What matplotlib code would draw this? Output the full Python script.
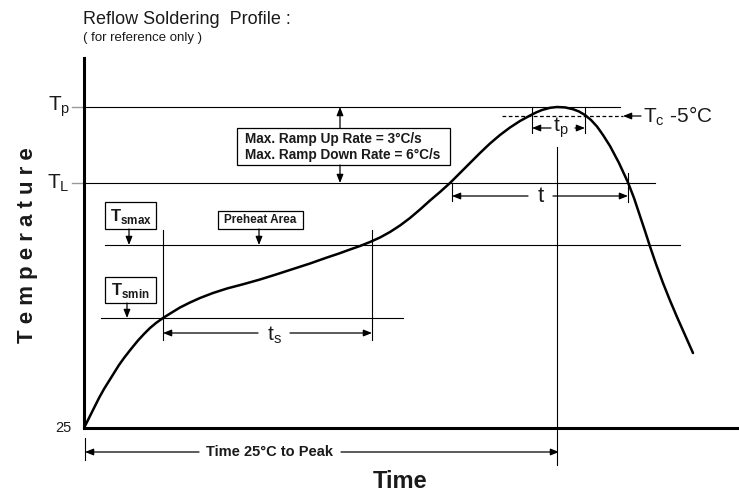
"""Reflow soldering profile sketch (schematic, arbitrary units)."""

import matplotlib
matplotlib.use('Agg')
import matplotlib.pyplot as plt
from matplotlib.patches import Rectangle


plt.rcParams['font.family'] = ['Liberation Sans', 'DejaVu Sans']
plt.rcParams['mathtext.fontset'] = 'custom'
plt.rcParams['mathtext.rm'] = 'Liberation Sans'
plt.rcParams['mathtext.bf'] = 'Liberation Sans:bold'

# ==============================================================================
# data (schematic units)
# ==============================================================================

profile_time = [0, 5, 10, 15, 20, 25, 30, 35, 40, 47, 54, 60, 66, 72, 79, 87, 96,
                106, 116, 129, 143, 160, 176, 192, 209, 226, 243, 255, 266, 276,
                286, 296, 306, 316, 326, 336, 346, 356, 366, 376, 386, 396, 406,
                416, 426, 436, 446, 452, 458, 466, 473, 481, 489, 495, 501, 507,
                513, 519, 526, 535, 544, 550, 556, 561, 566, 572, 579, 586, 593,
                601, 609]
profile_temp = [0, 10, 20, 30, 39, 47, 55, 63, 70, 79, 87.5, 94, 100, 105, 110,
                115, 120.5, 125.5, 130, 135, 139.5, 144, 148.5, 153.5, 159, 164.5,
                170.5, 174.5, 178.5, 182, 186, 190.5, 196, 202.5, 210, 218.5, 227.5,
                236, 245, 255, 265, 275, 284.5, 293, 300.5, 307, 312.5, 315.5, 318,
                320.2, 321, 320.6, 318.8, 316.5, 313, 308, 301.5, 293, 282, 265,
                245.5, 230, 212, 197, 181.5, 164, 145, 127.5, 111, 93, 75]

T_P     = 321
T_C     = 312     # Tc - 5 C
T_L     = 245
T_SMAX  = 183
T_SMIN  = 110

TS_START, TS_END = 79, 288
TL_START, TL_END = 368, 544
TP_START, TP_END = 448, 501
T_PEAK           = 473

LINE = '#000000'
TEXT = '#1a1a1a'


def harrow(ax, x0, x1, y, lw=0.9):
    ax.annotate('', xy=(x1, y), xytext=(x0, y), annotation_clip=False,
                arrowprops=dict(arrowstyle='-|>,head_length=0.5,head_width=0.2',
                                color=LINE, lw=lw, shrinkA=0, shrinkB=0))


def varrow(ax, x, y0, y1, lw=0.9):
    ax.annotate('', xy=(x, y1), xytext=(x, y0), annotation_clip=False,
                arrowprops=dict(arrowstyle='-|>,head_length=0.5,head_width=0.2',
                                color=LINE, lw=lw, shrinkA=0, shrinkB=0))


def vline(ax, x, y0, y1, lw=0.8):
    ax.plot([x, x], [y0, y1], color=LINE, lw=lw, clip_on=False)


def hline(ax, x0, x1, y, lw=0.8, **kw):
    ax.plot([x0, x1], [y, y], color=LINE, lw=lw, clip_on=False, **kw)


fig = plt.figure(figsize=(7.39, 4.91), dpi=100)
ax = fig.add_axes([84 / 739, 63 / 491, 655 / 739, 370 / 491])
ax.set_xlim(0, 655)
ax.set_ylim(0, 370)
ax.set_xticks([])
ax.set_yticks([])
ax.spines['top'].set_visible(False)
ax.spines['right'].set_visible(False)
ax.spines['left'].set_linewidth(2.2)
ax.spines['bottom'].set_linewidth(2.2)

# profile curve
ax.plot(profile_time, profile_temp, color=LINE, lw=1.8, solid_capstyle='round',
        solid_joinstyle='round', zorder=5)

# temperature levels
hline(ax, 0, 536, T_P)
hline(ax, 0, 571, T_L)
hline(ax, 21, 596, T_SMAX)
hline(ax, 17, 319, T_SMIN)
for lvl in (T_P, T_L):
    ax.plot([-12, 0], [lvl, lvl], color='#999999', lw=1.0, clip_on=False)
ax.text(-14, T_P, r'$\mathrm{T}_\mathrm{p}$', ha='right', va='center', fontsize=15, color=TEXT)
ax.text(-14, T_L, r'$\mathrm{T}_\mathrm{L}$', ha='right', va='center', fontsize=15, color=TEXT)
ax.text(-12, 0, '25', ha='right', va='center', fontsize=10.5, color=TEXT)

# Tc - 5 C
hline(ax, 418, 539, T_C, lw=0.9, ls=(0, (3, 2)))
harrow(ax, 557, 539, T_C)
ax.text(559, T_C, r'$\mathrm{T}_\mathrm{c}$ -5°C', ha='left', va='center', fontsize=15,
        color=TEXT)

# tp
vline(ax, TP_START, T_P, 295)
vline(ax, TP_END, T_P, 295)
harrow(ax, 467, TP_START, 300)
harrow(ax, 491, TP_END, 300)
ax.text(477, 300, r'$\mathrm{t}_\mathrm{p}$', ha='center', va='center', fontsize=15, color=TEXT)

# peak vertical
vline(ax, T_PEAK, 281, -37)

# t above liquidus
vline(ax, TL_START, T_L, 227)
vline(ax, TL_END, 255, 226)
harrow(ax, 444, TL_START, 232)
harrow(ax, 469, TL_END, 232)
ax.text(457, 232, 't', ha='center', va='center', fontsize=16, color=TEXT)

# ramp box
ax.add_patch(Rectangle((153, 263), 213, 37, fill=False, ec=LINE, lw=0.9))
ax.text(161, 289, 'Max. Ramp Up Rate = 3°C/s', ha='left', va='center',
        fontsize=9.8, fontweight='bold', color=TEXT)
ax.text(161, 273, 'Max. Ramp Down Rate = 6°C/s', ha='left', va='center',
        fontsize=9.8, fontweight='bold', color=TEXT)
varrow(ax, 256, 300, T_P)
varrow(ax, 256, 263, T_L)

# Tsmax / preheat / Tsmin boxes
ax.add_patch(Rectangle((21, 199), 51, 27, fill=False, ec=LINE, lw=0.9))
ax.text(46.5, 212, r'$\mathbf{T}_\mathbf{smax}$', ha='center', va='center', fontsize=12,
        color=TEXT)
varrow(ax, 45, 199, T_SMAX)

ax.add_patch(Rectangle((134, 199), 85, 18, fill=False, ec=LINE, lw=0.9))
ax.text(176.5, 208, 'Preheat Area', ha='center', va='center', fontsize=8.5,
        fontweight='bold', color=TEXT)
varrow(ax, 175, 199, T_SMAX)

ax.add_patch(Rectangle((21, 125), 51, 26, fill=False, ec=LINE, lw=0.9))
ax.text(46.5, 138, r'$\mathbf{T}_\mathbf{smin}$', ha='center', va='center', fontsize=12,
        color=TEXT)
varrow(ax, 43, 125, T_SMIN)

# ts
vline(ax, TS_START, 198, 88)
vline(ax, TS_END, 198, 88)
harrow(ax, 174, TS_START, 95)
harrow(ax, 206, TS_END, 95)
ax.text(190, 93, r'$\mathrm{t}_\mathrm{s}$', ha='center', va='center', fontsize=15, color=TEXT)

# time 25 C to peak
vline(ax, 1, -10, -32)
harrow(ax, 115, 1, -24)
harrow(ax, 257, T_PEAK + 2, -24)
ax.text(186, -24, 'Time 25°C to Peak', ha='center', va='center', fontsize=10.5,
        fontweight='bold', color=TEXT)

# axis titles
ax.text(316, -53, 'Time', ha='center', va='center', fontsize=17, fontweight='bold',
        color=TEXT)
ax.text(-56, 183, 'T e m p e r a t u r e', ha='center', va='center', rotation=90,
        fontsize=16, fontweight='bold', color=TEXT)

# title
ax.text(-1, 408, 'Reflow Soldering  Profile :', ha='left', va='center', fontsize=13,
        color=TEXT)
ax.text(-1, 390, '( for reference only )', ha='left', va='center', fontsize=9.5,
        color=TEXT)

fig.savefig('out.png', dpi=100)
